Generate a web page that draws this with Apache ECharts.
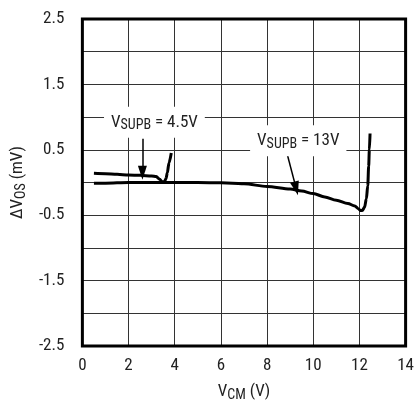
<!DOCTYPE html>
<html><head><meta charset="utf-8">
<script src="https://cdn.jsdelivr.net/npm/echarts@6/dist/echarts.min.js"></script>
<style>html,body{margin:0;padding:0;background:#fff}#c{width:417px;height:407px}</style>
</head><body><div id="c"></div>
<script>
const FONT = "'Liberation Sans Narrow','Roboto Condensed','Arial Narrow','Liberation Sans',sans-serif";
const xTicks = [0, 2, 4, 6, 8, 10, 12, 14];
const yTickLabels = ['-2.5', '-1.5', '-0.5', '0.5', '1.5', '2.5'];
const vcm13 = [0.5, 1, 2, 3, 4, 5, 6, 6.5, 7, 8, 9, 9.5, 10, 10.5, 11, 11.5, 11.8, 11.95, 12.05, 12.12, 12.22, 12.3, 12.36, 12.4, 12.43, 12.46];
const dvos13 = [-0.01, -0.01, 0.0, 0.0, 0.0, 0.0, -0.005, -0.01, -0.02, -0.06, -0.1, -0.13, -0.17, -0.22, -0.27, -0.32, -0.36, -0.40, -0.43, -0.43, -0.38, -0.25, -0.05, 0.25, 0.5, 0.75];
const vcm45 = [0.5, 1, 1.5, 2, 2.5, 3, 3.2, 3.35, 3.45, 3.55, 3.62, 3.68, 3.75, 3.85];
const dvos45 = [0.14, 0.135, 0.125, 0.115, 0.11, 0.10, 0.09, 0.05, 0.01, 0.01, 0.06, 0.15, 0.3, 0.45];
const label45 = {text: '{v|V}{s|SUPB}{v| = 4.5V}', x: 3.12, y: 0.92};
const label13 = {text: '{v|V}{s|SUPB}{v| = 13V}', x: 9.35, y: 0.64};
const arrow45 = [[2.6, 0.67], [2.6, 0.15]];
const arrow13 = [[8.83, 0.49], [9.26, -0.09]];

const chart = echarts.init(document.getElementById('c'), null, {renderer: 'canvas'});
const richText = {
  v: {fontSize: 17, fontFamily: FONT, color: '#222', lineHeight: 20},
  s: {fontSize: 14, fontFamily: FONT, color: '#222', padding: [6, 0, 0, 0], lineHeight: 20}
};
function ann(l) {
  return {coord: [l.x, l.y], symbol: 'rect', symbolSize: 0,
    label: {show: true, position: 'inside', formatter: l.text, rich: richText,
      backgroundColor: '#fff', padding: [6, 7, 5, 7]}};
}
function arrow(a) {
  return [{coord: a[0], symbol: 'none'}, {coord: a[1], symbol: 'triangle', symbolSize: [9, 14]}];
}
chart.setOption({
  animation: false,
  backgroundColor: '#fff',
  textStyle: {fontFamily: FONT},
  grid: {left: 81, right: 8, top: 19, bottom: 61, show: true, borderColor: '#000', borderWidth: 3, z: 5},
  xAxis: {
    type: 'value', min: xTicks[0], max: xTicks[xTicks.length - 1], interval: 2,
    axisLine: {show: false}, axisTick: {show: false},
    splitLine: {show: true, lineStyle: {color: '#333', width: 1}},
    axisLabel: {fontSize: 17, color: '#222', margin: 11, fontFamily: FONT},
    name: '{v|V}{s|CM}{v| (V)}', nameLocation: 'middle', nameGap: 36,
    nameTextStyle: {rich: richText}
  },
  yAxis: {
    type: 'value', min: -2.5, max: 2.5, interval: 0.5,
    axisLine: {show: false}, axisTick: {show: false},
    splitLine: {show: true, lineStyle: {color: '#333', width: 1}},
    axisLabel: {fontSize: 17, color: '#222', margin: 18, fontFamily: FONT,
      formatter: function (v) {
        const s = v.toFixed(1);
        return yTickLabels.indexOf(s) >= 0 ? s : '';
      }},
    name: '{v|ΔV}{s|OS}{v| (mV)}', nameLocation: 'middle', nameGap: 52,
    nameTextStyle: {rich: richText}
  },
  series: [
    {
      type: 'line', name: '4.5V', data: vcm45.map((x, i) => [x, dvos45[i]]),
      showSymbol: false, smooth: 0.3, smoothMonotone: 'x',
      lineStyle: {color: '#000', width: 3}, z: 3,
      markLine: {silent: true, symbol: ['none', 'triangle'], label: {show: false},
        lineStyle: {color: '#000', width: 1.5, type: 'solid'},
        data: [arrow(arrow45)]},
      markPoint: {silent: true, data: [ann(label45)]}
    },
    {
      type: 'line', name: '13V', data: vcm13.map((x, i) => [x, dvos13[i]]),
      showSymbol: false, smooth: 0.3, smoothMonotone: 'x',
      lineStyle: {color: '#000', width: 3}, z: 3,
      markLine: {silent: true, symbol: ['none', 'triangle'], label: {show: false},
        lineStyle: {color: '#000', width: 1.5, type: 'solid'},
        data: [arrow(arrow13)]},
      markPoint: {silent: true, data: [ann(label13)]}
    }
  ]
});
</script></body></html>
